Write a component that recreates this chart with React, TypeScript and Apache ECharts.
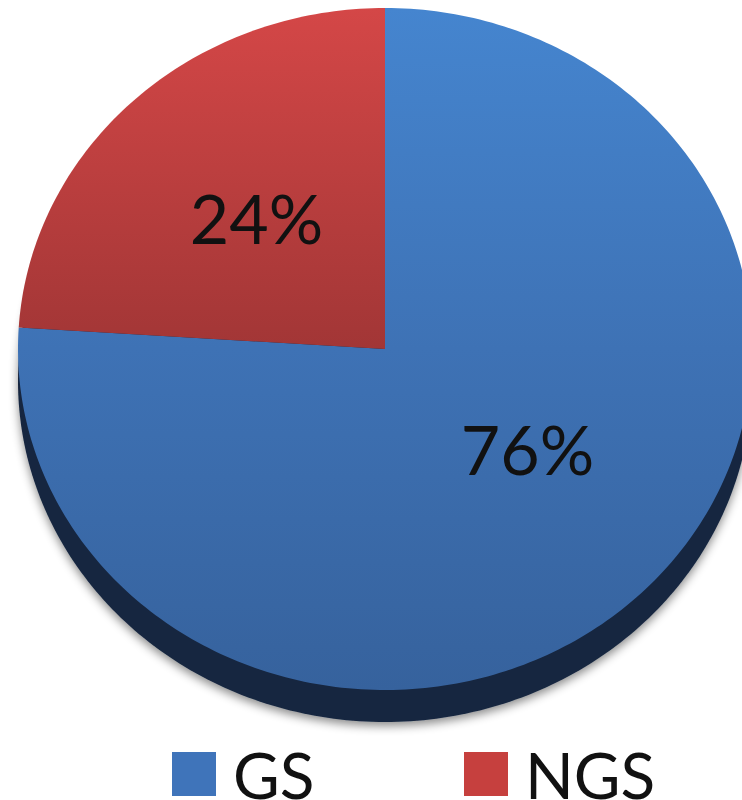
import React, { useEffect, useRef } from "react";
import * as echarts from "echarts";

const categories = ["GS", "NGS"];
const values = [76, 24];
const labelTexts = ["76%", "24%"];

const legendColors = ["#3f74ba", "#c6403e"];
const gradientStops = [
  [
    { offset: 0, color: "#4585cf" },
    { offset: 0.5, color: "#3e72b5" },
    { offset: 1, color: "#36629d" },
  ],
  [
    { offset: 0, color: "#d44747" },
    { offset: 0.5, color: "#a23636" },
    { offset: 1, color: "#822b2b" },
  ],
];

// geometry of the tilted pie (pixels)
const CX = 385;
const CY = 349;
const RX = 367;
const RY = 341;
const DEPTH = 32;
const TOP = CY - RY;
const BOTTOM = CY + RY;

const FONT = "Lato, 'Open Sans', sans-serif";

function ellipsePoint(aDeg: number, dy = 0): number[] {
  const a = (aDeg * Math.PI) / 180;
  return [CX + RX * Math.sin(a), CY + dy - RY * Math.cos(a)];
}

function sliceAngles(index: number): [number, number] {
  const total = values.reduce((s, v) => s + v, 0);
  let start = 0;
  for (let i = 0; i < index; i++) start += values[i];
  const a0 = (start / total) * 360;
  const a1 = ((start + values[index]) / total) * 360;
  return [a0, a1];
}

export default function App() {
  const ref = useRef<HTMLDivElement | null>(null);

  useEffect(() => {
    document.body.style.margin = "0";
    if (!ref.current) return;
    const chart = echarts.init(ref.current, null, { renderer: "svg" });

    const sliceSeries = categories.map((name, idx) => ({
      type: "custom",
      name,
      coordinateSystem: "none",
      itemStyle: { color: legendColors[idx] },
      data: [values[idx]],
      z: 3,
      renderItem: () => {
        const [a0, a1] = sliceAngles(idx);
        const pts: number[][] = [[CX, CY]];
        const steps = Math.max(8, Math.ceil(a1 - a0));
        for (let s = 0; s <= steps; s++) {
          pts.push(ellipsePoint(a0 + ((a1 - a0) * s) / steps));
        }
        const mid = ((a0 + a1) / 2) * (Math.PI / 180);
        const lx = 392 + 198 * Math.sin(mid);
        const ly = 333 - 158 * Math.cos(mid);
        return {
          type: "group",
          children: [
            {
              type: "polygon",
              shape: { points: pts },
              style: {
                fill: new echarts.graphic.LinearGradient(
                  0,
                  TOP,
                  0,
                  BOTTOM,
                  gradientStops[idx],
                  true
                ),
              },
            },
            {
              type: "text",
              x: lx,
              y: ly,
              style: {
                text: labelTexts[idx],
                fontSize: 68,
                fontFamily: FONT,
                fill: "#111111",
                align: "center",
                verticalAlign: "middle",
              },
            },
          ],
        };
      },
    }));

    const sideSeries = {
      type: "custom",
      name: "side",
      coordinateSystem: "none",
      data: [1],
      z: 1,
      silent: true,
      renderItem: () => {
        const pts: number[][] = [];
        for (let a = 0; a < 360; a += 1) pts.push(ellipsePoint(a, DEPTH));
        return {
          type: "polygon",
          shape: { points: pts },
          style: {
            fill: "#16263f",
            shadowBlur: 10,
            shadowColor: "rgba(0,0,0,0.45)",
            shadowOffsetY: 4,
          },
        };
      },
    };

    const legendBase = {
      top: 742,
      padding: 0,
      itemWidth: 44,
      itemHeight: 44,
      icon: "rect",
      selectedMode: false,
      textStyle: {
        fontSize: 64,
        lineHeight: 64,
        fontFamily: FONT,
        color: "#111111",
        padding: [0, 0, 0, 12],
      },
    };

    chart.setOption({
      animation: false,
      backgroundColor: "#ffffff",
      legend: [
        { ...legendBase, left: 172, data: [categories[0]] },
        { ...legendBase, left: 464, data: [categories[1]] },
      ],
      series: [sideSeries, ...sliceSeries],
    });

    return () => chart.dispose();
  }, []);

  return (
    <div
      ref={ref}
      style={{ position: "absolute", left: 0, top: 0, width: 742, height: 800 }}
    />
  );
}
